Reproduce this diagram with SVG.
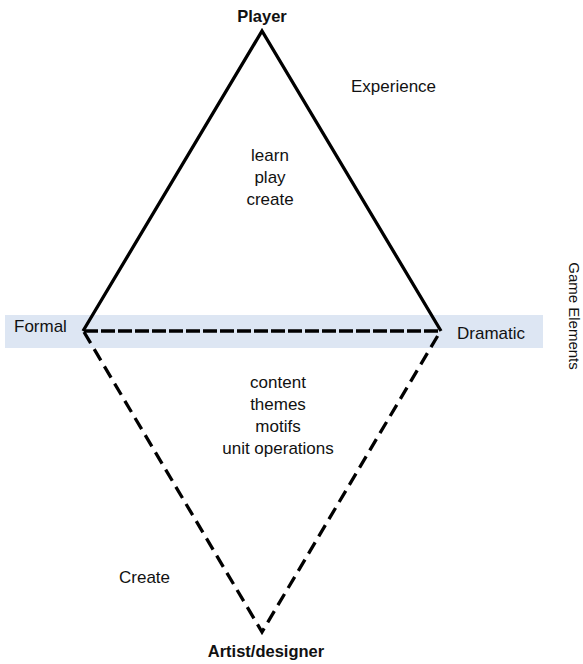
<svg xmlns="http://www.w3.org/2000/svg" width="583" height="664" viewBox="0 0 583 664">
<style>
text{font-family:"Liberation Sans",Arial,sans-serif;font-size:17px;fill:#111}
.b{font-weight:bold;font-size:16.5px}
.m{text-anchor:middle}
.solid{stroke:#000;stroke-width:3.3;fill:none;stroke-linejoin:miter}
.dash{stroke:#000;stroke-width:3.3;fill:none;stroke-dasharray:13 7}
.hdash{stroke:#000;stroke-width:3.3;fill:none;stroke-dasharray:14 3}
</style>
<rect id="band" x="5" y="315" width="538" height="33" fill="#dde6f3"/>
<g id="connectors">
<polyline class="solid" points="83,331 262,31 441,331"/>
<line class="hdash" x1="84" y1="331" x2="440" y2="331"/>
<polyline class="dash" points="84,332 262,632 440,332"/>
</g>
<g id="player"><text class="b m" x="262" y="22">Player</text></g>
<g id="experience"><text x="351" y="92">Experience</text></g>
<g id="top-list">
<text class="m" x="270" y="161">learn</text>
<text class="m" x="270" y="183">play</text>
<text class="m" x="270" y="205">create</text>
</g>
<g id="formal"><text x="14" y="332">Formal</text></g>
<g id="dramatic"><text x="457" y="339">Dramatic</text></g>
<g id="bottom-list">
<text class="m" x="278" y="388">content</text>
<text class="m" x="278" y="410">themes</text>
<text class="m" x="278" y="432">motifs</text>
<text class="m" x="278" y="454">unit operations</text>
</g>
<g id="create"><text x="119" y="583">Create</text></g>
<g id="artist"><text class="b m" x="266" y="657">Artist/designer</text></g>
<g id="game-elements"><text class="m" style="font-size:15px" transform="translate(569,316) rotate(90)">Game Elements</text></g>
</svg>
